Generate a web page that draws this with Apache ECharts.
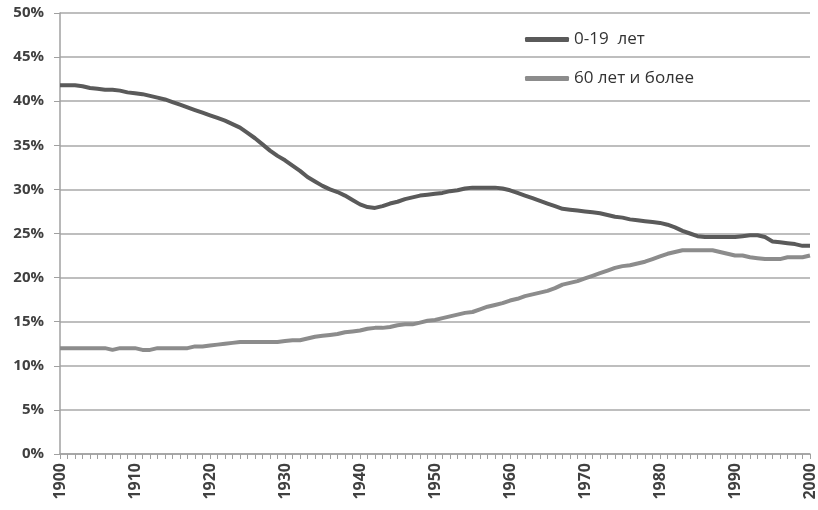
<!DOCTYPE html>
<html><head><meta charset="utf-8">
<script src="https://cdn.jsdelivr.net/npm/echarts@6/dist/echarts.min.js"></script>
<style>html,body{margin:0;padding:0;background:#fff}#c{width:818px;height:510px}</style>
</head><body><div id="c"></div>
<script>
const years = [];
for (let y = 1900; y <= 2000; y++) years.push(String(y));
const yTicks = ['0%','5%','10%','15%','20%','25%','30%','35%','40%','45%','50%'];
const seriesNames = ['0-19  лет', '60 лет и более'];
const young = [
41.8,41.8,41.8,41.7,41.5,41.4,41.3,41.3,41.2,41.0,
40.9,40.8,40.6,40.4,40.2,39.9,39.6,39.3,39.0,38.7,
38.4,38.1,37.8,37.4,37.0,36.4,35.8,35.1,34.4,33.8,
33.3,32.7,32.1,31.4,30.9,30.4,30.0,29.7,29.3,28.8,
28.3,28.0,27.9,28.1,28.4,28.6,28.9,29.1,29.3,29.4,
29.5,29.6,29.8,29.9,30.1,30.2,30.2,30.2,30.2,30.1,
29.9,29.6,29.3,29.0,28.7,28.4,28.1,27.8,27.7,27.6,
27.5,27.4,27.3,27.1,26.9,26.8,26.6,26.5,26.4,26.3,
26.2,26.0,25.7,25.3,25.0,24.7,24.6,24.6,24.6,24.6,
24.6,24.7,24.8,24.8,24.6,24.1,24.0,23.9,23.8,23.6,
23.6];
const old = [
12.0,12.0,12.0,12.0,12.0,12.0,12.0,11.8,12.0,12.0,
12.0,11.8,11.8,12.0,12.0,12.0,12.0,12.0,12.2,12.2,
12.3,12.4,12.5,12.6,12.7,12.7,12.7,12.7,12.7,12.7,
12.8,12.9,12.9,13.1,13.3,13.4,13.5,13.6,13.8,13.9,
14.0,14.2,14.3,14.3,14.4,14.6,14.7,14.7,14.9,15.1,
15.2,15.4,15.6,15.8,16.0,16.1,16.4,16.7,16.9,17.1,
17.4,17.6,17.9,18.1,18.3,18.5,18.8,19.2,19.4,19.6,
19.9,20.2,20.5,20.8,21.1,21.3,21.4,21.6,21.8,22.1,
22.4,22.7,22.9,23.1,23.1,23.1,23.1,23.1,22.9,22.7,
22.5,22.5,22.3,22.2,22.1,22.1,22.1,22.3,22.3,22.3,
22.5];

const chart = echarts.init(document.getElementById('c'), null, {renderer:'canvas'});
const font = '"Open Sans", sans-serif';
chart.setOption({
  animation: false,
  backgroundColor: '#fff',
  grid: {left: 60, right: 3, top: 13, bottom: 56, containLabel: false},
  legend: {
    orient: 'vertical', left: 520, top: 26, itemGap: 22,
    icon: 'roundRect', itemWidth: 44, itemHeight: 5,
    textStyle: {fontFamily: font, fontSize: 17, color: '#333'},
    data: seriesNames
  },
  xAxis: {
    type: 'category', data: years, boundaryGap: false,
    axisLine: {lineStyle: {color: '#a0a0a0', width: 1.5}},
    axisTick: {show: true, interval: 0, length: 5, lineStyle: {color: '#a0a0a0'}},
    axisLabel: {interval: 9, rotate: 90, margin: 9, fontFamily: font, fontSize: 16, fontWeight: 'bold', color: '#404040'},
    splitLine: {show: false}
  },
  yAxis: {
    type: 'value', min: 0, max: 50, interval: 5,
    axisLine: {show: true, lineStyle: {color: '#a0a0a0', width: 1.5}},
    axisTick: {show: true, length: 6, lineStyle: {color: '#a0a0a0'}},
    axisLabel: {margin: 16, fontFamily: font, fontSize: 15, fontWeight: 'bold', color: '#404040',
      formatter: v => yTicks[Math.round(v/5)]},
    splitLine: {lineStyle: {color: '#a8a8a8', width: 1.5}}
  },
  series: [
    {name: seriesNames[0], type: 'line', data: young, showSymbol: false, smooth: false,
     lineStyle: {color: '#5a5a5a', width: 4}, itemStyle: {color: '#5a5a5a'}},
    {name: seriesNames[1], type: 'line', data: old, showSymbol: false, smooth: false,
     lineStyle: {color: '#8c8c8c', width: 4}, itemStyle: {color: '#8c8c8c'}}
  ]
});
</script></body></html>
